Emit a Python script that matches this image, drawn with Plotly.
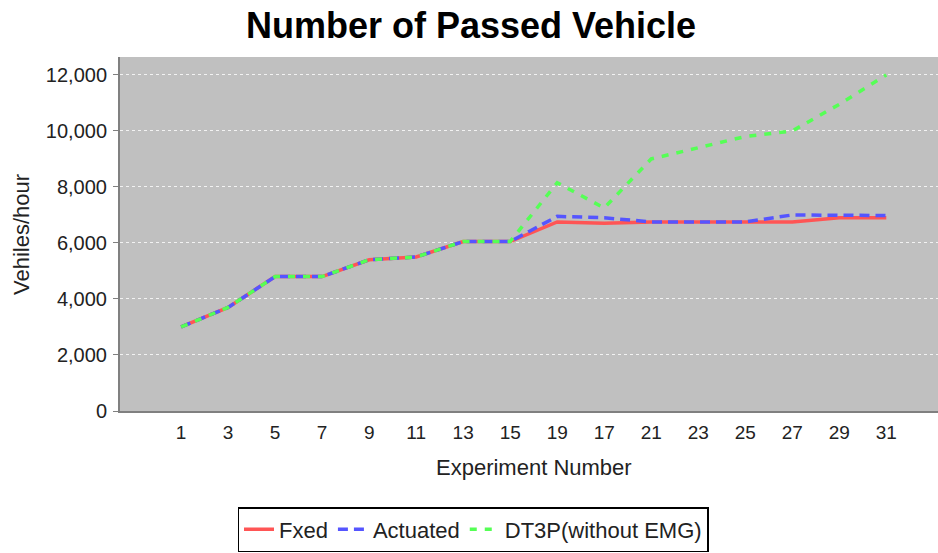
import plotly.graph_objects as go

categories = ["1", "3", "5", "7", "9", "11", "13", "15", "19", "17", "21", "23", "25", "27", "29", "31"]
fxed = [3000, 3700, 4800, 4800, 5400, 5500, 6050, 6050, 6750, 6700, 6750, 6750, 6750, 6750, 6900, 6900]
actuated = [3000, 3700, 4800, 4800, 5400, 5500, 6050, 6050, 6950, 6900, 6750, 6750, 6750, 7000, 7000, 6980]
dt3p = [3000, 3700, 4800, 4800, 5400, 5500, 6050, 6050, 8150, 7250, 9000, 9400, 9800, 10000, 10950, 12000]
y_ticks = [0, 2000, 4000, 6000, 8000, 10000, 12000]

FONT = "Liberation Sans, Arial, sans-serif"

fig = go.Figure()
fig.add_trace(go.Scatter(x=categories, y=fxed, mode="lines", name="Fxed",
                         line=dict(color="#FF5555", width=3.5)))
fig.add_trace(go.Scatter(x=categories, y=actuated, mode="lines", name="Actuated",
                         line=dict(color="#5555FF", width=3.5, dash="10px,6px")))
fig.add_trace(go.Scatter(x=categories, y=dt3p, mode="lines", name="DT3P(without EMG)",
                         line=dict(color="#55FF55", width=3.5, dash="7px,8px")))

fig.update_layout(
    width=938, height=553,
    margin=dict(l=120, r=0, t=57, b=142),
    paper_bgcolor="white",
    plot_bgcolor="#C0C0C0",
    font=dict(family=FONT, color="#222222"),
    title=dict(text="<b>Number of Passed Vehicle</b>", x=471 / 938, xanchor="center",
               y=1 - 25 / 553, yanchor="middle",
               font=dict(size=36, color="black", family=FONT)),
    showlegend=True,
    legend=dict(orientation="h", xref="container", yref="container",
                x=473 / 938, xanchor="center", y=1 - 507 / 553, yanchor="top",
                bordercolor="black", borderwidth=1.5, bgcolor="white",
                font=dict(size=22, color="#222222"), itemwidth=30,
                tracegroupgap=0),
    xaxis=dict(type="category", range=[-1.3, 16.1], showgrid=False,
               showline=True, linecolor="#808080", linewidth=2,
               ticks="", ticklabelstandoff=3,
               tickfont=dict(size=19, color="#222222"), zeroline=False),
    yaxis=dict(range=[0, 12640], tickvals=y_ticks, tickformat=",d",
               showgrid=True, gridcolor="#F2F2F2", gridwidth=1, griddash="3px,3px",
               showline=True, linecolor="#808080", linewidth=2,
               ticks="outside", ticklen=5, tickcolor="#808080",
               ticklabelstandoff=2,
               tickfont=dict(size=20, color="#222222"), zeroline=False),
    annotations=[
        dict(text="Experiment Number", xref="paper", yref="paper",
             x=(534 - 120) / 818, y=-(467 - 411) / 354, xanchor="center", yanchor="middle",
             showarrow=False, font=dict(size=22, color="#222222", family=FONT)),
        dict(text="Vehiles/hour", xref="paper", yref="paper",
             x=-(120 - 22) / 818, y=(411 - 235) / 354, xanchor="center", yanchor="middle",
             textangle=-90, showarrow=False,
             font=dict(size=22, color="#222222", family=FONT)),
    ],
)

fig.write_html("out.html", config={"displayModeBar": False},
               post_script="document.body.style.margin='0';document.body.style.overflow='hidden';")
